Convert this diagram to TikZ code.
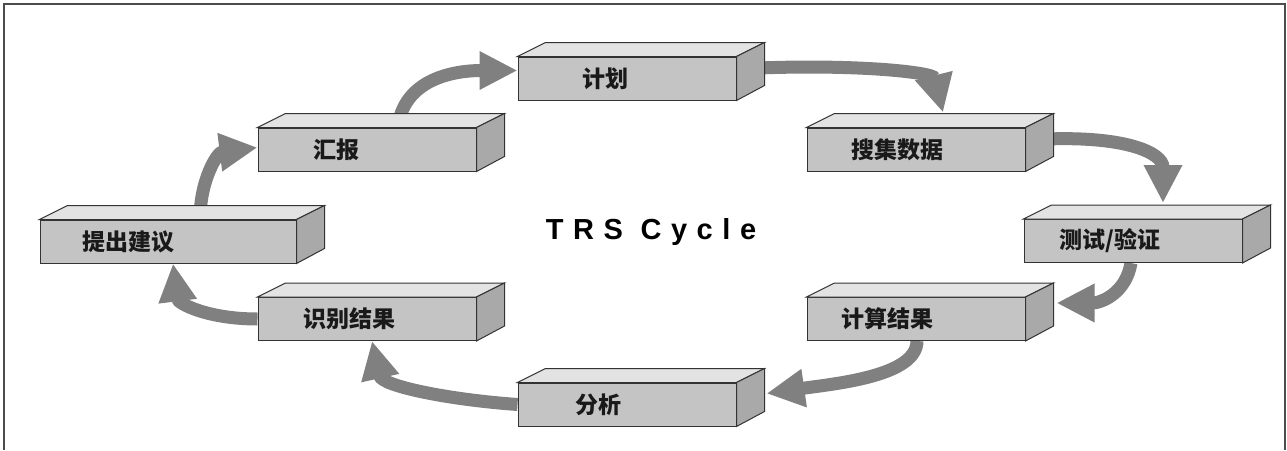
\documentclass[tikz,border=0pt]{standalone}
\usepackage{fontspec}
\newfontfamily\cjk{Noto Sans CJK SC}
\newfontfamily\titlefont{Liberation Sans}[LetterSpace=33]
\usetikzlibrary{arrows.meta,backgrounds}
\definecolor{frontgray}{HTML}{C4C4C4}
\definecolor{topgray}{HTML}{E3E3E3}
\definecolor{sidegray}{HTML}{A9A9A9}
\definecolor{arrowgray}{HTML}{808080}
\tikzset{
  front/.style={draw=black!80, line width=1pt, fill=frontgray, minimum width=218pt, minimum height=43pt, inner sep=0pt},
  lbl/.style={font=\cjk\bfseries\fontsize{23}{27}\selectfont, text=black!90},
  cyc/.style={arrowgray, line width=13pt, -{Triangle[width=36pt,length=38pt]}},
}
\begin{document}
\begin{tikzpicture}[x=1pt,y=-1pt]
        \useasboundingbox (0,0) rectangle (1287,450);
        \draw[black!70, line width=1.5pt] (4,450) -- (4,4) -- (1285,4) -- (1285,450);

        \draw (627,78.5) node [front] (plan) {};
        \draw (916,149.5) node [front] (collect) {};
        \draw (1133,241) node [front] (test) {};
        \draw (916,319) node [front] (calc) {};
        \draw (627,404.5) node [front] (analyze) {};
        \draw (367,319) node [front] (ident) {};
        \draw (168,241.5) node [front, minimum width=256pt] (suggest) {};
        \draw (367,149.5) node [front] (report) {};

        \begin{scope}[on background layer]
        \draw[cyc] ([xshift=31pt]report.north) .. controls +(5,-45) and +(-70,0) .. ([yshift=8pt]plan.west);
        \draw[cyc] ([xshift=10pt,yshift=10pt]plan.east) .. controls +(110,-5) and +(-10,-40) .. ([xshift=27pt,yshift=15pt]collect.north);
        \draw[cyc] ([xshift=10pt,yshift=10pt]collect.east) .. controls +(90,-5) and +(0,-50) .. ([xshift=30pt,yshift=16pt]test.north);
        \draw[cyc] ([xshift=-2pt]test.south) .. controls +(-5,30) and +(45,0) .. ([xshift=31pt,yshift=16pt]calc.east);
        \draw[cyc] ([xshift=1pt]calc.south) .. controls +(0,35) and +(70,-10) .. ([xshift=30pt,yshift=11pt]analyze.east);
        \draw[cyc] (analyze.west) .. controls +(-70,-5) and +(10,45) .. ([xshift=5pt]ident.south);
        \draw[cyc] (ident.west) .. controls +(-50,0) and +(5,40) .. ([xshift=5pt]suggest.south);
        \draw[cyc] ([xshift=32pt]suggest.north) .. controls +(0,-40) and +(-40,5) .. ([yshift=2pt]report.west);
        \end{scope}

        \foreach \n in {plan,collect,test,calc,analyze,ident,suggest,report} {
          \filldraw[fill=topgray, draw=black!80, line width=1pt] (\n.north west) -- ++(28,-14) -- ([shift={(28,-14)}]\n.north east) -- (\n.north east) -- cycle;
          \filldraw[fill=sidegray, draw=black!80, line width=1pt] (\n.north east) -- ++(28,-14) -- ++(0,43) -- (\n.south east) -- cycle;
        }

        \draw ([xshift=-22pt]plan.center) node [lbl] (plan-t) {计划};
        \draw ([xshift=-19pt]collect.center) node [lbl] (collect-t) {搜集数据};
        \draw ([xshift=-23pt]test.center) node [lbl] (test-t) {测试/验证};
        \draw ([xshift=-29pt]calc.center) node [lbl] (calc-t) {计算结果};
        \draw ([xshift=-29pt]analyze.center) node [lbl] (analyze-t) {分析};
        \draw ([xshift=-18pt]ident.center) node [lbl] (ident-t) {识别结果};
        \draw ([xshift=-40pt]suggest.center) node [lbl] (suggest-t) {提出建议};
        \draw ([xshift=-31pt]report.center) node [lbl] (report-t) {汇报};

        \draw (651,232) node [font=\titlefont\bfseries\fontsize{29}{31}\selectfont] (title) {TRS Cycle};
\end{tikzpicture}
\end{document}
